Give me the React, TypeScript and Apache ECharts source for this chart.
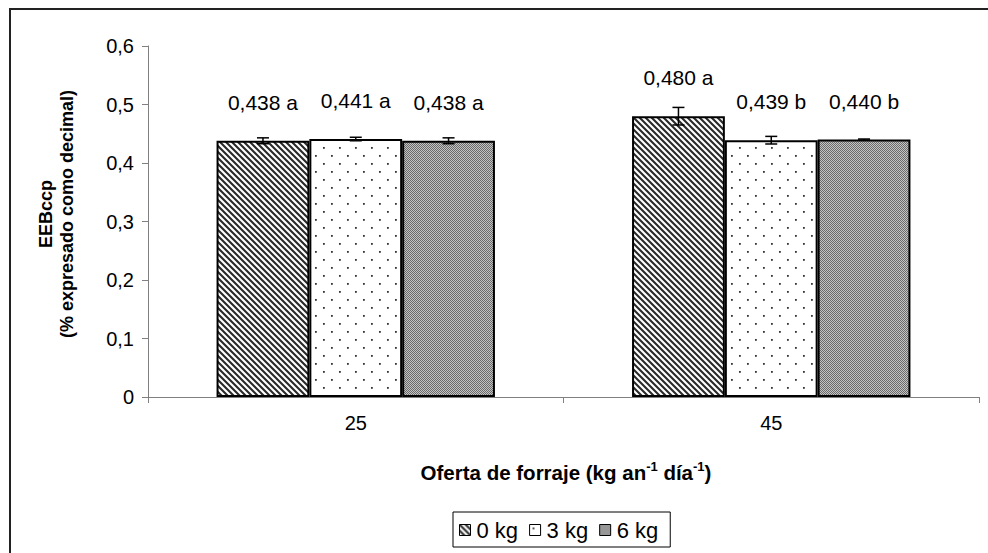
import React, { useEffect, useRef } from "react";
import * as echarts from "echarts";

const categories = ["25", "45"];
const seriesNames = ["0 kg", "3 kg", "6 kg"];
const values = [
  [0.438, 0.48],
  [0.441, 0.439],
  [0.438, 0.44],
];
const errors = [
  [0.005, 0.015],
  [0.003, 0.0065],
  [0.005, 0.001],
];
const letters = [
  ["a", "a"],
  ["a", "b"],
  ["a", "b"],
];
const yTicks = { min: 0, max: 0.6, interval: 0.1 };

const FONT = "'Liberation Sans', Arial, sans-serif";
const GAP = 0.33;

function svgUrl(svg: string) {
  return "data:image/svg+xml;charset=utf-8," + encodeURIComponent(svg);
}

const stripeSvg =
  '<svg xmlns="http://www.w3.org/2000/svg" width="6" height="6"><rect width="6" height="6" fill="#fff"/>' +
  '<path d="M-1,-1 L7,7 M-1,5 L1,7 M5,-1 L7,1" stroke="#2a2a2a" stroke-width="2.1"/></svg>';
const dotSvg =
  '<svg xmlns="http://www.w3.org/2000/svg" width="16" height="16"><rect width="16" height="16" fill="#fff"/>' +
  '<rect x="3" y="3" width="1.8" height="1.8" fill="#333"/><rect x="11" y="11" width="1.8" height="1.8" fill="#333"/></svg>';
const checkSvg =
  '<svg xmlns="http://www.w3.org/2000/svg" width="2" height="2"><rect width="2" height="2" fill="#c4c4c4"/>' +
  '<rect x="0" y="0" width="1" height="1" fill="#6a6a6a"/><rect x="1" y="1" width="1" height="1" fill="#6a6a6a"/></svg>';

const patterns = [
  { image: svgUrl(stripeSvg), repeat: "repeat", imageWidth: 6, imageHeight: 6 },
  { image: svgUrl(dotSvg), repeat: "repeat", imageWidth: 16, imageHeight: 16 },
  { image: svgUrl(checkSvg), repeat: "repeat", imageWidth: 2, imageHeight: 2 },
];

export default function App() {
  const ref = useRef<HTMLDivElement>(null);
  useEffect(() => {
    if (!ref.current) return;
    const chart = echarts.init(ref.current, null, { renderer: "svg" });

    const barSeries = seriesNames.map((name, s) => ({
      type: "bar",
      name,
      data: values[s],
      barGap: "0%",
      barCategoryGap: GAP * 100 + "%",
      itemStyle: { color: patterns[s] as any, borderColor: "#000", borderWidth: 2 },
      label: {
        show: true,
        position: "top",
        distance: 28,
        fontFamily: FONT,
        fontSize: 21,
        color: "#000",
        formatter: (p: any) =>
          p.value.toFixed(3).replace(".", ",") + " " + letters[s][p.dataIndex],
      },
      z: 2,
    }));

    const errData: number[][] = [];
    seriesNames.forEach((_, s) => {
      categories.forEach((_, c) => {
        errData.push([c, values[s][c], errors[s][c], s]);
      });
    });

    const option: any = {
      animation: false,
      backgroundColor: "#fff",
      grid: { left: 148, right: 9, top: 46, bottom: 156 },
      legend: {
        data: seriesNames,
        left: 453,
        top: 512,
        borderColor: "#000",
        borderWidth: 1,
        padding: [7, 12, 6, 6],
        itemGap: 11,
        itemWidth: 11,
        itemHeight: 11,
        icon: "rect",
        itemStyle: { borderWidth: 1, borderColor: "#000" },
        textStyle: { fontFamily: FONT, fontSize: 22, color: "#000", padding: [0, 0, 0, 1] },
      },
      xAxis: {
        type: "category",
        data: categories,
        axisLine: { lineStyle: { color: "#808080", width: 1 } },
        axisTick: { show: true, length: 6, lineStyle: { color: "#808080" } },
        axisLabel: { fontFamily: FONT, fontSize: 20, color: "#000", margin: 16 },
      },
      yAxis: {
        type: "value",
        min: yTicks.min,
        max: yTicks.max,
        interval: yTicks.interval,
        splitLine: { show: false },
        axisLine: { show: true, lineStyle: { color: "#808080", width: 1 } },
        axisTick: { show: true, length: 6, lineStyle: { color: "#808080" } },
        axisLabel: {
          fontFamily: FONT,
          fontSize: 20,
          color: "#000",
          margin: 14,
          formatter: (v: number) => (v === 0 ? "0" : String(+v.toFixed(1)).replace(".", ",")),
        },
      },
      series: [
        ...barSeries,
        {
          type: "custom",
          name: "err",
          data: errData,
          z: 5,
          renderItem: (params: any, api: any) => {
            const c = api.value(0);
            const v = api.value(1);
            const e = api.value(2);
            const s = api.value(3);
            const band = api.size([1, 0])[0];
            const bw = (band * (1 - GAP)) / 3;
            const x = api.coord([c, v])[0] + (s - 1) * bw;
            const yt = api.coord([c, v + e])[1];
            const yb = api.coord([c, v - e])[1];
            const hw = 6;
            const st = { stroke: "#000", lineWidth: 1.5 };
            return {
              type: "group",
              children: [
                { type: "line", shape: { x1: x, y1: yt, x2: x, y2: yb }, style: st },
                { type: "line", shape: { x1: x - hw, y1: yt, x2: x + hw, y2: yt }, style: st },
                { type: "line", shape: { x1: x - hw, y1: yb, x2: x + hw, y2: yb }, style: st },
              ],
            };
          },
        },
      ],
      graphic: [
        {
          type: "rect",
          shape: { x: 10, y: 9, width: 1100, height: 700 },
          style: { fill: "none", stroke: "#222", lineWidth: 2 },
          silent: true,
          z: -1,
        },
        {
          type: "text",
          x: 56,
          y: 214,
          rotation: Math.PI / 2,
          style: {
            text: "EEBccp\n(% expresado como decimal)",
            fontFamily: FONT,
            fontSize: 18,
            fontWeight: "bold",
            lineHeight: 21,
            fill: "#000",
            align: "center",
            verticalAlign: "middle",
          },
        },
        {
          type: "text",
          x: 566,
          y: 472,
          style: {
            text: "{b|Oferta de forraje (kg an}{s|-1}{b| día}{s|-1}{b|)}",
            align: "center",
            verticalAlign: "middle",
            rich: {
              b: { fontFamily: FONT, fontSize: 20.5, fontWeight: "bold", fill: "#000", color: "#000" },
              s: {
                fontFamily: FONT,
                fontSize: 13,
                fontWeight: "bold",
                fill: "#000",
                color: "#000",
                padding: [0, 0, 11, 0],
              },
            },
          },
        },
      ],
    };
    chart.setOption(option);
    return () => chart.dispose();
  }, []);
  return (
    <div
      ref={ref}
      style={{ position: "fixed", left: 0, top: 0, width: 988, height: 553, background: "#fff" }}
    />
  );
}
